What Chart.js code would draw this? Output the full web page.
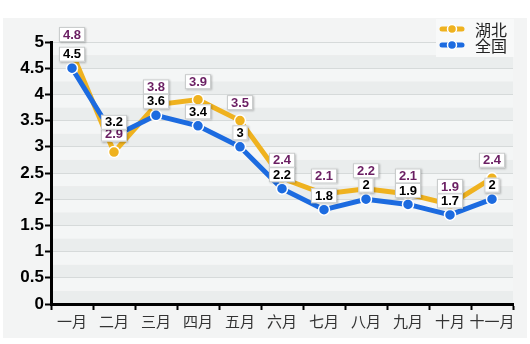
<!DOCTYPE html>
<html><head><meta charset="utf-8">
<script src="https://cdn.jsdelivr.net/npm/chart.js@4"></script>
<style>html,body{margin:0;padding:0;background:#fff}#wrap{width:530px;height:344px}</style>
</head><body><div id="wrap"><canvas id="c" width="530" height="344"></canvas></div>
<script>
const categories = ['一月','二月','三月','四月','五月','六月','七月','八月','九月','十月','十一月'];
const hubei = [4.8, 2.9, 3.8, 3.9, 3.5, 2.4, 2.1, 2.2, 2.1, 1.9, 2.4];
const national = [4.5, 3.2, 3.6, 3.4, 3.0, 2.2, 1.8, 2.0, 1.9, 1.7, 2.0];
const seriesNames = ['湖北', '全国'];
const yTickValues = [0, 0.5, 1, 1.5, 2, 2.5, 3, 3.5, 4, 4.5, 5];

const YELLOW = '#efb21f', BLUE = '#1c6be0';

const bgPlugin = {
  id: 'bg',
  beforeDraw(chart) {
    const {ctx, chartArea: a, scales: {y}} = chart;
    ctx.save();
    ctx.fillStyle = '#ffffff';
    ctx.fillRect(0, 0, chart.width, chart.height);
    ctx.fillStyle = '#f3f4f4';
    ctx.fillRect(3, 18, 524, 320);
    for (let v = 0; v < 5; v += 0.25) {
      const y1 = y.getPixelForValue(v + 0.25), y0 = y.getPixelForValue(v);
      ctx.fillStyle = (Math.round(v * 4) % 2 === 0) ? '#eaeded' : '#f4f6f6';
      ctx.fillRect(a.left, y1, a.right - a.left, y0 - y1);
    }
    ctx.restore();
  },
  afterDatasetsDraw(chart) {
    const ctx = chart.ctx;
    ctx.save();
    ctx.font = 'bold 13px "Liberation Sans", Arial, sans-serif';
    ctx.textAlign = 'center';
    ctx.textBaseline = 'middle';
    const colors = ['#6b1f63', '#000000'];
    const offsets = [18, 14];
    [0, 1].forEach(di => {
      const meta = chart.getDatasetMeta(di);
      const data = chart.data.datasets[di].data;
      meta.data.forEach((pt, i) => {
        const txt = String(data[i]);
        const w = ctx.measureText(txt).width + 8, h = 15;
        const cx = pt.x, cy = pt.y - offsets[di];
        ctx.shadowColor = 'rgba(0,0,0,0.25)';
        ctx.shadowBlur = 2;
        ctx.shadowOffsetX = 1; ctx.shadowOffsetY = 1;
        ctx.fillStyle = '#ffffff';
        ctx.fillRect(cx - w / 2, cy - h / 2, w, h);
        ctx.shadowColor = 'transparent';
        ctx.strokeStyle = '#c9cccc';
        ctx.lineWidth = 1;
        ctx.strokeRect(cx - w / 2 + 0.5, cy - h / 2 + 0.5, w - 1, h - 1);
        ctx.fillStyle = colors[di];
        ctx.fillText(txt, cx, cy + 0.5);
      });
    });
    ctx.fillStyle = '#f8f9f9';
    ctx.fillRect(436, 19, 78, 38);
    const items = [[seriesNames[0], YELLOW, 29], [seriesNames[1], BLUE, 45]];
    items.forEach(([name, col, yy]) => {
      ctx.strokeStyle = col; ctx.lineWidth = 5; ctx.lineCap = 'round';
      ctx.beginPath(); ctx.moveTo(442, yy); ctx.lineTo(462, yy); ctx.stroke();
      ctx.beginPath(); ctx.arc(452, yy, 4.5, 0, Math.PI * 2);
      ctx.fillStyle = col; ctx.fill();
      ctx.strokeStyle = '#fff'; ctx.lineWidth = 1.5; ctx.stroke();
      ctx.fillStyle = '#222';
      ctx.font = '16px "Noto Sans CJK SC", sans-serif';
      ctx.textAlign = 'left';
      ctx.fillText(name, 475, yy + 1);
    });
    ctx.restore();
  }
};

new Chart(document.getElementById('c'), {
  type: 'line',
  data: {
    labels: categories,
    datasets: [
      { label: seriesNames[0], data: hubei, borderColor: YELLOW, backgroundColor: YELLOW,
        borderWidth: 5, pointRadius: 5.5, pointBorderColor: '#fff', pointBorderWidth: 1.5,
        tension: 0, order: 2 },
      { label: seriesNames[1], data: national, borderColor: BLUE, backgroundColor: BLUE,
        borderWidth: 5, pointRadius: 5.5, pointBorderColor: '#fff', pointBorderWidth: 1.5,
        tension: 0, order: 1 }
    ]
  },
  options: {
    responsive: false,
    animation: false,
    devicePixelRatio: 1,
    layout: { padding: { left: 0, top: 42, right: 17, bottom: 0 } },
    plugins: { legend: { display: false }, tooltip: { enabled: false } },
    scales: {
      x: {
        offset: true,
        grid: { offset: true, drawOnChartArea: false, tickColor: '#000', tickLength: 6, tickWidth: 2 },
        border: { color: '#000', width: 3 },
        ticks: { color: '#333', font: { family: '"Noto Sans CJK SC", sans-serif', size: 15 }, padding: 2, maxRotation: 0, autoSkip: false },
        afterFit(s) { s.height = 40; }
      },
      y: {
        min: 0, max: 5,
        afterBuildTicks(s) {
          const t = [];
          for (let v = 0; v <= 5.0001; v += 0.25) t.push({ value: Math.round(v * 100) / 100 });
          s.ticks = t;
        },
        grid: {
          color: '#d6dada', lineWidth: 1,
          tickColor: c => (c.tick && yTickValues.includes(c.tick.value)) ? '#000' : 'rgba(0,0,0,0)',
          tickLength: 6, tickWidth: 2
        },
        border: { color: '#000', width: 3 },
        ticks: {
          color: '#000', padding: 1,
          font: { family: '"Liberation Sans", Arial, sans-serif', size: 17, weight: 'bold' },
          callback: v => yTickValues.includes(v) ? String(v) : ''
        },
        afterFit(s) { s.width = 51; }
      }
    }
  },
  plugins: [bgPlugin]
});
</script></body></html>
